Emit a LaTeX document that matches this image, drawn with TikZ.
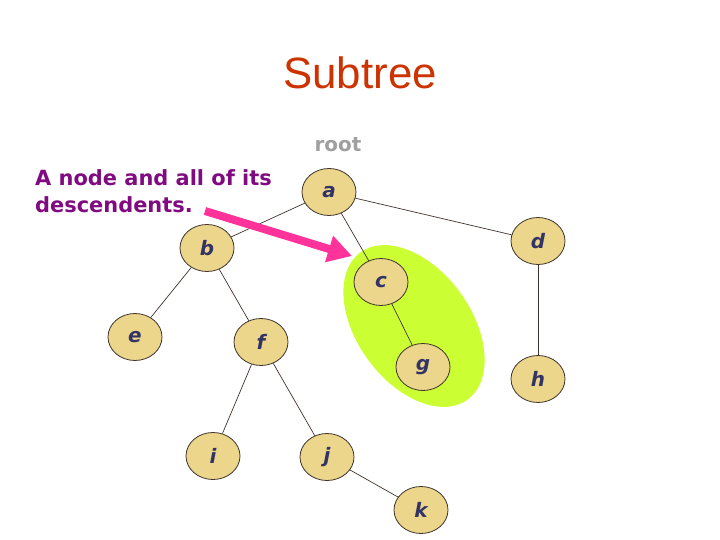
\documentclass[tikz,border=0pt]{standalone}
\usepackage{fontspec}
\setmainfont{DejaVu Sans}
\newfontfamily\titlefont{Liberation Sans}
\usetikzlibrary{shapes.geometric, arrows.meta}

\definecolor{nodefill}{HTML}{EBD68C}
\definecolor{nodeline}{HTML}{3F332C}
\definecolor{lettercol}{HTML}{333366}
\definecolor{titlecol}{HTML}{CC3300}
\definecolor{notecol}{HTML}{800B80}
\definecolor{subtreecol}{HTML}{CCFF33}
\definecolor{pointercol}{HTML}{FF3399}

\tikzset{
  treenode/.style={ellipse, draw=nodeline, line width=0.8bp, fill=nodefill, minimum width=54bp, minimum height=47bp, inner sep=0pt, font=\fontsize{20}{24}\selectfont\bfseries\itshape, text=lettercol},
  treeedge/.style={draw=nodeline, line width=0.7bp},
  pointer/.style={pointercol, line width=8bp, -{Triangle[length=24bp,width=26bp]}}
}

\begin{document}
\begin{tikzpicture}[x=1bp, y=-1bp]
	\useasboundingbox (0,0) rectangle (720,540);
	
	\node[font=\titlefont\fontsize{44}{50}\selectfont, text=titlecol] (title) at (360,73) {Subtree};
	\node[font=\fontsize{20}{24}\selectfont\bfseries, text=gray!75] (rootlabel) at (338,145) {root};
	\node[anchor=north west, align=left, inner sep=0pt, font=\fontsize{21}{28}\selectfont\bfseries, text=notecol] (note) at (35,169) {A node and all of its\\descendents.};
	
	\fill[subtreecol, rotate around={-54:(414,326)}] (414,326) ellipse (91 and 57);
	
	\node[treenode] (a) at (329,192) {a};
	\node[treenode] (b) at (207,248) {b};
	\node[treenode] (d) at (538,241) {d};
	\node[treenode] (c) at (381,282) {c};
	\node[treenode] (e) at (135,337) {e};
	\node[treenode] (f) at (261,342) {f};
	\node[treenode] (g) at (423,367) {g};
	\node[treenode] (h) at (538,379) {h};
	\node[treenode] (i) at (213,456) {i};
	\node[treenode] (j) at (327,457) {j};
	\node[treenode] (k) at (421,510) {k};
	
	\foreach \from/\to in {a/b, a/c, a/d, b/e, b/f, c/g, d/h, f/i, f/j, j/k}
		\draw[treeedge] (\from) -- (\to);
	
	\coordinate (tail) at (205,211);
	\coordinate (tip) at (352,256);
	\draw[pointer] (tail) -- (tip);
\end{tikzpicture}
\end{document}
